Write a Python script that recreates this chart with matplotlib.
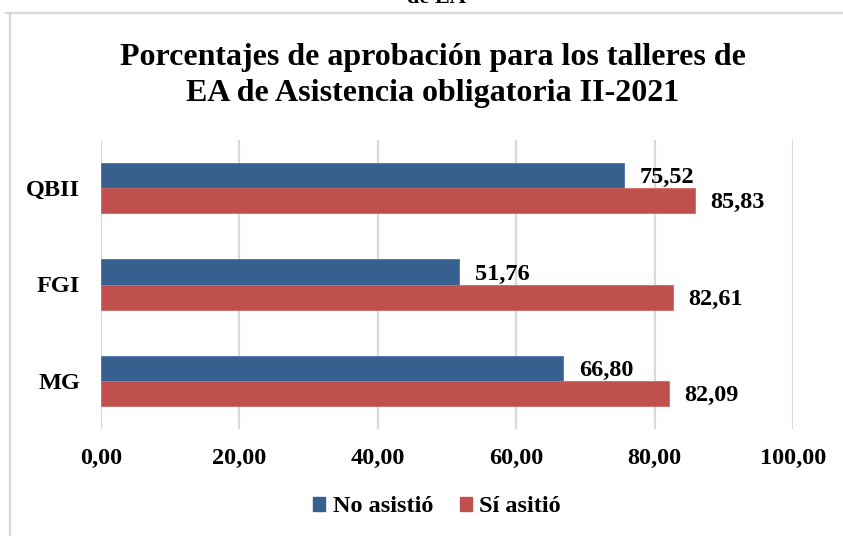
import matplotlib
matplotlib.use("Agg")
import matplotlib.pyplot as plt
from matplotlib.patches import Patch
from matplotlib.lines import Line2D

plt.rcParams['font.family'] = ['Liberation Serif', 'DejaVu Serif']
plt.rcParams['font.weight'] = 'bold'

categories = ["QBII", "FGI", "MG"]
no_asistio = [75.52, 51.76, 66.80]
si_asistio = [85.83, 82.61, 82.09]
series_names = ["No asistió", "Sí asitió"]
x_ticks = [0, 20, 40, 60, 80, 100]

BLUE = "#37608f"
RED = "#c0504d"
GRID = "#d9d9d9"

W, H = 843, 536
fig = plt.figure(figsize=(W / 100, H / 100), dpi=100)

def fx(px):
    return px / W

def fy(py):
    return 1 - py / H

# chart frame (runs past the right and bottom edges)
fig.add_artist(Line2D([fx(6), fx(843)], [fy(13), fy(13)], color=GRID, lw=1.6))
fig.add_artist(Line2D([fx(10), fx(10)], [fy(13), fy(536)], color=GRID, lw=1.6))

# caption of the previous line, clipped at the top
fig.text(fx(436), fy(3), "de EA", ha="center", va="baseline",
         fontsize=16, fontweight="bold")

fig.text(fx(433), fy(57), "Porcentajes de aprobación para los talleres de",
         ha="center", va="center", fontsize=23, fontweight="bold")
fig.text(fx(433), fy(93), "EA de Asistencia obligatoria II-2021",
         ha="center", va="center", fontsize=23, fontweight="bold")

left, right, top, bottom = 101, 793, 140, 429
ax = fig.add_axes([fx(left), fy(bottom), fx(right - left), (bottom - top) / H])

n = len(categories)
ypos = [n - 1 - i for i in range(n)]
h = 0.26
ax.barh([y + h / 2 for y in ypos], no_asistio, height=h, color=BLUE,
        edgecolor="#4a73a6", lw=0.6, zorder=3)
ax.barh([y - h / 2 for y in ypos], si_asistio, height=h, color=RED,
        edgecolor="#d06966", lw=0.6, zorder=3)

def fmt(v):
    return f"{v:.2f}".replace(".", ",")

for y, a, b in zip(ypos, no_asistio, si_asistio):
    ax.annotate(fmt(a), (a, y + h / 2), xytext=(11.5, -1.5), textcoords="offset points",
                ha="left", va="center", fontsize=17.5, fontweight="bold")
    ax.annotate(fmt(b), (b, y - h / 2), xytext=(11, -1.5), textcoords="offset points",
                ha="left", va="center", fontsize=17.5, fontweight="bold")

ax.set_xlim(0, 100)
ax.set_ylim(-0.5, n - 0.5)
ax.set_xticks(x_ticks)
ax.set_xticklabels([fmt(t) for t in x_ticks], fontsize=17.5, fontweight="bold")
ax.set_yticks(ypos)
ax.set_yticklabels(categories, fontsize=17.5, fontweight="bold")
ax.tick_params(axis="both", length=0)
ax.tick_params(axis="x", pad=14)
ax.tick_params(axis="y", pad=15)
ax.grid(axis="x", color=GRID, lw=1.6, zorder=0)
for s in ax.spines.values():
    s.set_visible(False)

handles = [Patch(facecolor=BLUE, edgecolor=BLUE), Patch(facecolor=RED, edgecolor=RED)]
fig.legend(handles, series_names, loc="center", bbox_to_anchor=(fx(437), fy(507)),
           ncol=2, frameon=False, handlelength=0.5, handleheight=0.5,
           handletextpad=0.3, columnspacing=1.1, prop={"weight": "bold", "size": 17.5})

fig.savefig("out.png", dpi=100)
